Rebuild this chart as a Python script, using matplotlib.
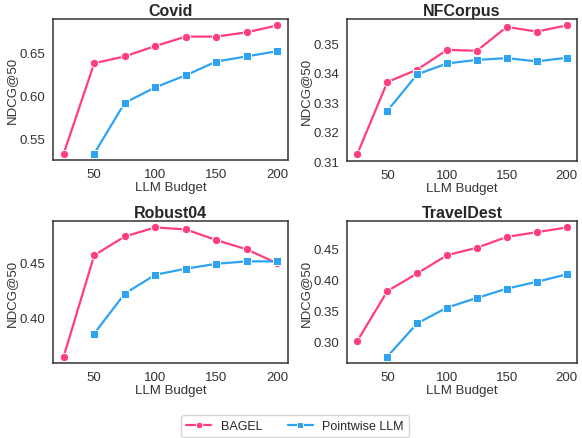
import matplotlib
matplotlib.use("Agg")
import matplotlib.pyplot as plt
import seaborn as sns

sns.set_style("white")
plt.rcParams['font.family'] = ['Arial', 'Liberation Sans', 'DejaVu Sans']

budgets = [25, 50, 75, 100, 125, 150, 175, 200]
pointwise_budgets = [50, 75, 100, 125, 150, 175, 200]

datasets = ["Covid", "NFCorpus", "Robust04", "TravelDest"]

bagel_covid = [0.532, 0.637, 0.645, 0.657, 0.668, 0.668, 0.673, 0.681]
point_covid = [0.532, 0.591, 0.609, 0.623, 0.639, 0.645, 0.651]

bagel_nfcorpus = [0.3125, 0.3368, 0.3410, 0.3477, 0.3474, 0.3555, 0.3539, 0.3560]
point_nfcorpus = [0.3270, 0.3394, 0.3431, 0.3443, 0.3449, 0.3438, 0.3450]

bagel_robust = [0.3642, 0.4564, 0.4736, 0.4818, 0.4800, 0.4703, 0.4618, 0.4491]
point_robust = [0.3851, 0.4215, 0.4387, 0.4442, 0.4487, 0.4509, 0.4509]

bagel_travel = [0.301, 0.381, 0.4096, 0.439, 0.451, 0.4685, 0.476, 0.4837]
point_travel = [0.2755, 0.329, 0.3545, 0.370, 0.385, 0.396, 0.408]

bagel = [bagel_covid, bagel_nfcorpus, bagel_robust, bagel_travel]
pointwise = [point_covid, point_nfcorpus, point_robust, point_travel]

yticks = [
    [0.55, 0.60, 0.65],
    [0.31, 0.32, 0.33, 0.34, 0.35],
    [0.40, 0.45],
    [0.30, 0.35, 0.40, 0.45],
]

pink = "#ff3d7f"
blue = "#2ea3f2"

fig = plt.figure(figsize=(5.82, 4.39), dpi=100)
W, H = 582, 439
boxes = [(53, 20, 288, 161), (347, 20, 577, 162),
         (53, 222, 288, 364), (347, 222, 577, 364)]

for i, name in enumerate(datasets):
    x0, y0, x1, y1 = boxes[i]
    ax = fig.add_axes([x0 / W, 1 - y1 / H, (x1 - x0) / W, (y1 - y0) / H])
    ax.plot(budgets, bagel[i], color=pink, marker="o", markersize=6,
            markeredgecolor="white", markeredgewidth=0.7, linewidth=1.6,
            label="BAGEL")
    ax.plot(pointwise_budgets, pointwise[i], color=blue, marker="s", markersize=5.5,
            markeredgecolor="white", markeredgewidth=0.7, linewidth=1.6,
            label="Pointwise LLM")
    ax.set_title(name, fontsize=11.5, fontweight="bold", color="#262626", pad=3)
    ax.set_xlabel("LLM Budget", fontsize=9.5, color="#333333", labelpad=1)
    ax.set_ylabel("NDCG@50", fontsize=9.5, color="#333333", labelpad=1)
    ax.set_xticks([50, 100, 150, 200])
    ax.set_yticks(yticks[i])
    ax.yaxis.set_major_formatter(plt.FormatStrFormatter("%.2f"))
    ax.tick_params(labelsize=9.5, colors="#333333", pad=2)
    for s in ax.spines.values():
        s.set_color("#333333")
        s.set_linewidth(1.1)
    if i == 0:
        handles, labels = ax.get_legend_handles_labels()

fig.legend(handles, labels, loc="center", bbox_to_anchor=(295 / W, 1 - 427 / H),
           ncol=2, fontsize=9, frameon=True, handlelength=2.0,
           columnspacing=2.0, edgecolor="#cccccc", markerscale=0.8)

fig.savefig("out.png", dpi=100)
